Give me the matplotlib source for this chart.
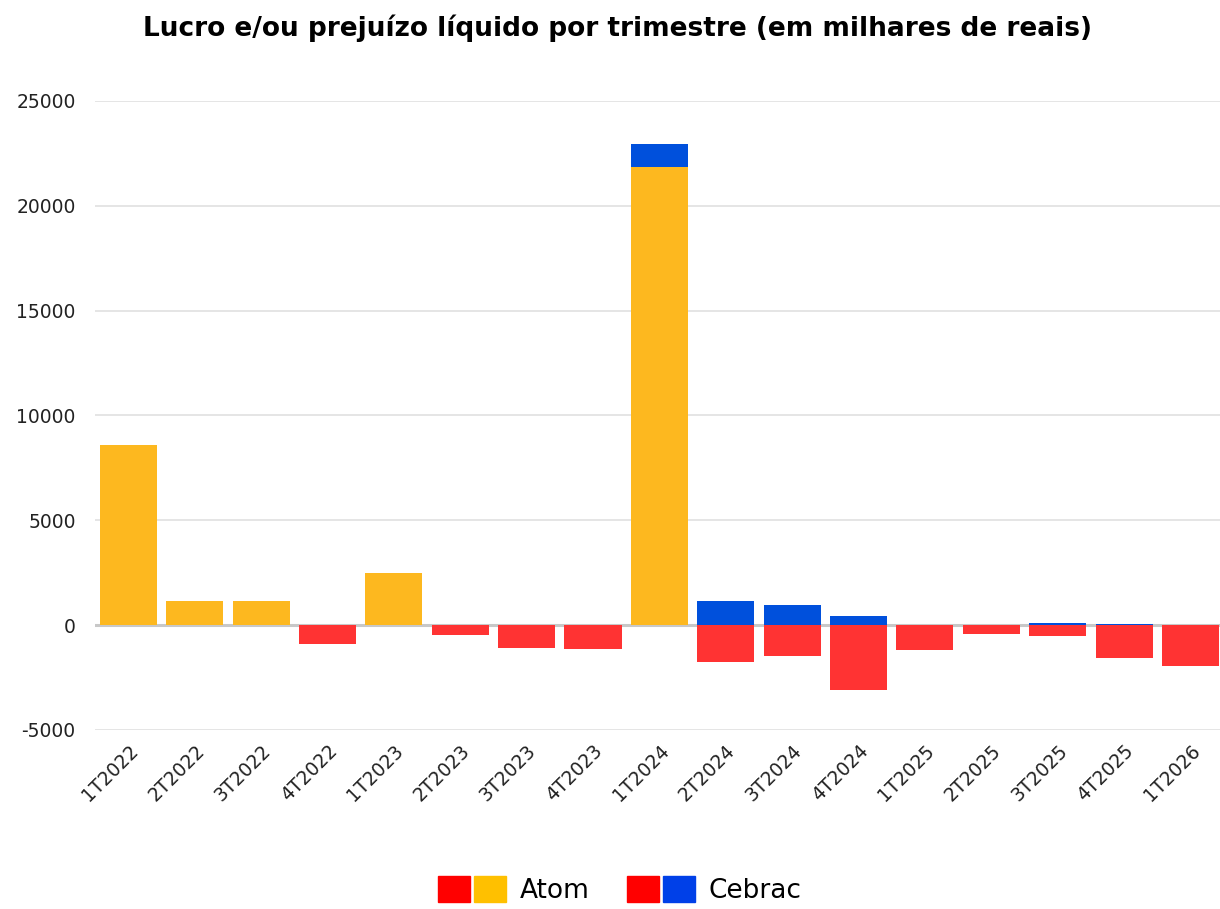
import matplotlib
matplotlib.use("Agg")
import matplotlib.pyplot as plt
import numpy as np
from matplotlib.patches import Patch
from matplotlib.legend_handler import HandlerTuple

# données (milhares de reais)
trimestres = ["1T2022", "2T2022", "3T2022", "4T2022", "1T2023", "2T2023", "3T2023",
              "4T2023", "1T2024", "2T2024", "3T2024", "4T2024", "1T2025", "2T2025",
              "3T2025", "4T2025", "1T2026"]
atom = [8600, 1150, 1150, -900, 2480, -480, -1100, -1150, 21850, -1770, -1480,
        -3100, -1200, -430, -520, -1580, -1960]
cebrac = [0, 0, 0, 0, 0, 0, 0, 0, 1100, 1150, 950, 430, 0, 0, 80, 50, 0]
yticks = [-5000, 0, 5000, 10000, 15000, 20000, 25000]

amarelo = "#FDB81F"
azul = "#0050DC"
vermelho = "#FF3333"

fig = plt.figure(figsize=(12.2, 9.09), dpi=100)
ax = fig.add_axes([0.078, 0.197, 0.925, 0.692])

x = np.arange(len(trimestres))
atom = np.array(atom)
cebrac = np.array(cebrac)
larg = 0.86

cores_atom = [amarelo if v >= 0 else vermelho for v in atom]
ax.bar(x, atom, width=larg, color=cores_atom, zorder=3)

# empilhamento separado para positivos e negativos
base_pos = np.where(atom > 0, atom, 0)
base_neg = np.where(atom < 0, atom, 0)
base = np.where(cebrac >= 0, base_pos, base_neg)
cores_cebrac = [azul if v >= 0 else vermelho for v in cebrac]
ax.bar(x, cebrac, width=larg, bottom=base, color=cores_cebrac, zorder=3)

ax.set_xlim(-0.5, len(trimestres) - 0.5)
ax.set_ylim(-5000, 25000)
ax.set_yticks(yticks)
ax.set_yticklabels([str(v) for v in yticks], fontsize=13.5, color="#222222")
ax.set_xticks(x)
ax.set_xticklabels(trimestres, rotation=45, ha="right", rotation_mode="anchor",
                   fontsize=13.5, color="#222222")
ax.tick_params(axis="both", length=0)
ax.tick_params(axis="y", pad=14)
ax.tick_params(axis="x", pad=8)
for s in ax.spines.values():
    s.set_visible(False)
ax.yaxis.grid(True, color="#E0E0E0", linewidth=1.2, zorder=0)
ax.axhline(0, color="#C8C8C8", linewidth=2.2, zorder=2.5)

fig.text(0.506, 0.969, "Lucro e/ou prejuízo líquido por trimestre (em milhares de reais)",
         ha="center", va="center", fontsize=19, fontweight="bold")

# legenda com dois quadrados por série
h_atom = (Patch(color="#FF0000"), Patch(color="#FFC000"))
h_cebrac = (Patch(color="#FF0000"), Patch(color="#0040E8"))
fig.legend([h_atom, h_cebrac], ["Atom", "Cebrac"],
           handler_map={tuple: HandlerTuple(ndivide=None, pad=0.15)},
           loc="center", bbox_to_anchor=(0.508, 0.021), ncol=2, frameon=False,
           fontsize=19, handlelength=2.58, handleheight=1.17,
           handletextpad=0.53, columnspacing=1.4)

fig.savefig("out.png", dpi=100)
plt.close("all")
